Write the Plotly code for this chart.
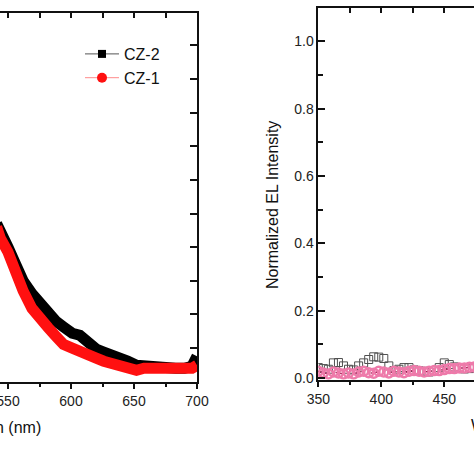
import plotly.graph_objects as go

W = 474
H = 474

# ---- Left panel: PL spectra (normalized) ----
pl_wavelength = [541, 544, 550, 556, 562, 569, 575, 582, 588, 594, 601, 607, 613, 620,
                 626, 632, 639, 645, 652, 658, 664, 671, 677, 683, 690, 696, 700]
pl_cz2 = [0.470, 0.441, 0.400, 0.350, 0.300, 0.262, 0.234, 0.204, 0.180, 0.163, 0.144,
          0.138, 0.114, 0.097, 0.088, 0.082, 0.073, 0.061, 0.049, 0.046, 0.049, 0.043,
          0.040, 0.040, 0.040, 0.046, 0.076]
pl_cz1 = [0.460, 0.426, 0.385, 0.322, 0.270, 0.218, 0.187, 0.160, 0.135, 0.111, 0.100,
          0.088, 0.079, 0.070, 0.061, 0.055, 0.049, 0.043, 0.034, 0.040, 0.040, 0.037,
          0.037, 0.037, 0.037, 0.040, 0.049]

# ---- Right panel: EL spectra (normalized) ----
el_wavelength = [350, 354, 358, 362, 366, 370, 374, 378, 382, 386, 390, 394, 398, 402,
                 406, 410, 414, 418, 422, 426, 430, 434, 438, 442, 446, 450, 454, 458,
                 462, 466, 470, 474]
el_cz2 = [0.031, 0.028, 0.026, 0.045, 0.046, 0.036, 0.026, 0.024, 0.036, 0.045, 0.055,
          0.063, 0.062, 0.058, 0.036, 0.022, 0.026, 0.031, 0.031, 0.024, 0.021, 0.020,
          0.018, 0.022, 0.031, 0.045, 0.040, 0.033, 0.030, 0.027, 0.028, 0.030]
el_cz1 = [0.020, 0.015, 0.012, 0.018, 0.015, 0.012, 0.015, 0.012, 0.018, 0.020, 0.016,
          0.014, 0.020, 0.018, 0.015, 0.020, 0.018, 0.016, 0.020, 0.022, 0.020, 0.018,
          0.020, 0.022, 0.022, 0.025, 0.028, 0.028, 0.030, 0.030, 0.032, 0.033]

legend_names = ["CZ-2", "CZ-1"]
x_title = "Wavelength (nm)"
y_title_right = "Normalized EL Intensity"

FONT = "Arial, Liberation Sans, sans-serif"

def px_x(p):
    return p / W

def px_y(p):
    return 1 - p / H

fig = go.Figure()

# thick PL bands
fig.add_trace(go.Scatter(x=pl_wavelength, y=pl_cz2, mode="lines",
                         line=dict(color="#000000", width=11), showlegend=False,
                         xaxis="x", yaxis="y"))
fig.add_trace(go.Scatter(x=pl_wavelength, y=pl_cz1, mode="lines",
                         line=dict(color="#ff1010", width=11), showlegend=False,
                         xaxis="x", yaxis="y"))
# legend entries
fig.add_trace(go.Scatter(x=[None], y=[None], mode="lines+markers", name=legend_names[0],
                         line=dict(color="#555555", width=1),
                         marker=dict(symbol="square", color="#000000", size=8),
                         xaxis="x", yaxis="y"))
fig.add_trace(go.Scatter(x=[None], y=[None], mode="lines+markers", name=legend_names[1],
                         line=dict(color="#ff8a8a", width=1),
                         marker=dict(symbol="circle", color="#ff1010", size=10),
                         xaxis="x", yaxis="y"))

# EL traces
fig.add_trace(go.Scatter(x=el_wavelength, y=el_cz2, mode="markers", showlegend=False,
                         marker=dict(symbol="square-open", color="#505050", size=8,
                                     line=dict(width=1)),
                         xaxis="x2", yaxis="y2"))
fig.add_trace(go.Scatter(x=el_wavelength, y=el_cz1, mode="lines+markers", showlegend=False,
                         line=dict(color="#9b1b4f", width=1.5, dash="dash"),
                         marker=dict(symbol="circle-open", color="#ee7aaa", size=9,
                                     line=dict(width=2.5)),
                         xaxis="x2", yaxis="y2"))
# dummy traces for top tick axes
fig.add_trace(go.Scatter(x=[], y=[], showlegend=False, xaxis="x3", yaxis="y"))
fig.add_trace(go.Scatter(x=[], y=[], showlegend=False, xaxis="x4", yaxis="y2"))

axis_common = dict(showgrid=False, zeroline=False, automargin=False,
                   linecolor="#111111", linewidth=1.5,
                   tickcolor="#111111", tickwidth=1.5,
                   tickfont=dict(family=FONT, size=14, color="#222222"))

left_dom_x = [0, px_x(197)]
right_dom_x = [px_x(318.3), 1]
left_dom_y = [px_y(381.7), px_y(12.7)]
right_dom_y = [px_y(379.7), px_y(8.3)]

fig.update_layout(
    width=W, height=H, margin=dict(l=0, r=0, t=0, b=0, autoexpand=False),
    paper_bgcolor="white", plot_bgcolor="white",
    showlegend=True,
    legend=dict(x=px_x(80), y=px_y(37), xanchor="left", yanchor="top",
                bgcolor="rgba(0,0,0,0)", font=dict(family=FONT, size=16, color="#111111"),
                tracegroupgap=0, itemwidth=34),
    xaxis=dict(domain=left_dom_x, range=[543.65, 700], anchor="y",
               showline=True, mirror=True, ticks="outside", ticklen=6,
               tickmode="linear", tick0=0, dtick=50, ticklabeloverflow="allow",
               minor=dict(ticks="outside", ticklen=4, dtick=25, tick0=0,
                          tickcolor="#111111", tickwidth=1.5),
               **axis_common),
    xaxis3=dict(domain=left_dom_x, range=[543.65, 700], anchor="y", overlaying="x",
                side="top", showline=False, ticks="inside", ticklen=5,
                tickmode="linear", tick0=0, dtick=25, showticklabels=False,
                **axis_common),
    yaxis=dict(domain=left_dom_y, range=[0, 1.097], anchor="x", side="right",
               showline=True, mirror=False, ticks="inside", ticklen=7,
               tickmode="linear", tick0=0, dtick=0.1, showticklabels=False,
               **axis_common),
    xaxis2=dict(domain=right_dom_x, range=[350, 473.6], anchor="y2",
                showline=True, mirror=True, ticks="outside", ticklen=6,
                tickmode="linear", tick0=0, dtick=50, ticklabeloverflow="allow",
                minor=dict(ticks="outside", ticklen=4, dtick=25, tick0=0,
                           tickcolor="#111111", tickwidth=1.5),
                **axis_common),
    xaxis4=dict(domain=right_dom_x, range=[350, 473.6], anchor="y2", overlaying="x2",
                side="top", showline=False, ticks="inside", ticklen=5,
                tickmode="linear", tick0=0, dtick=25, showticklabels=False,
                **axis_common),
    yaxis2=dict(domain=right_dom_y, range=[-0.005, 1.098], anchor="x2",
                showline=True, mirror=True, ticks="inside", ticklen=7,
                tickmode="linear", tick0=0, dtick=0.2, tickformat=".1f",
                ticklabeloverflow="allow",
                minor=dict(ticks="inside", ticklen=5, dtick=0.1, tick0=0,
                           tickcolor="#111111", tickwidth=1.5),
                **axis_common),
)

fig.add_annotation(text=x_title, xref="paper", yref="paper", x=px_x(43), y=px_y(427),
                   xanchor="right", yanchor="middle", showarrow=False,
                   font=dict(family=FONT, size=16, color="#111111"))
fig.add_annotation(text=x_title, xref="paper", yref="paper", x=px_x(469), y=px_y(425),
                   xanchor="left", yanchor="middle", showarrow=False,
                   font=dict(family=FONT, size=16, color="#111111"))
fig.add_annotation(text=y_title_right, xref="paper", yref="paper", x=px_x(273), y=px_y(205),
                   xanchor="center", yanchor="middle", textangle=-90, showarrow=False,
                   font=dict(family=FONT, size=16, color="#111111"))

fig.write_html("out.html", config={"displayModeBar": False},
               post_script="document.body.style.margin='0';document.body.style.overflow='hidden';")
